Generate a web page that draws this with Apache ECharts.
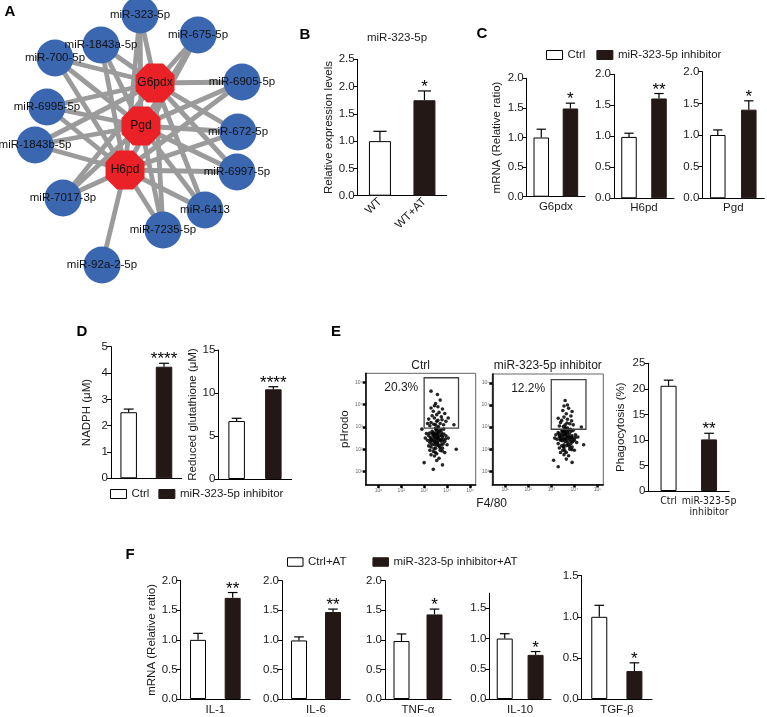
<!DOCTYPE html>
<html><head><meta charset="utf-8">
<script src="https://cdn.jsdelivr.net/npm/echarts@6/dist/echarts.min.js"></script>
<style>html,body{margin:0;padding:0;background:#fff}#c{width:767px;height:717px}</style>
</head><body><div id="c"></div>
<script>
// ---------------- DATA ----------------
// Panel A: network
const miRNAs = ['miR-323-5p','miR-675-5p','miR-1843a-5p','miR-700-5p','miR-6905-5p','miR-6995-5p','miR-672-5p','miR-1843b-5p','miR-6997-5p','miR-7017-3p','miR-6413','miR-7235-5p','miR-92a-2-5p'];
const miX = [140,198,101,55,242,47,238,35,237,63,205,163,102];
const miY = [15,35,45,58,82,107,132,145,172,198,210,230,265];
const genes = ['G6pdx','Pgd','H6pd'];
const geneX = [155,141,125];
const geneY = [83,126,170];
// targets of each miRNA (gene indices)
const miTargets = [[0,1,2],[0,1,2],[0,1,2],[0,1,2],[0,1,2],[0,1,2],[0,1,2],[0,1,2],[0,1,2],[0,1,2],[0,1,2],[0,1,2],[2]];

// Panel B
const bCats = ['WT','WT+AT'];
const bMean = [1.00, 1.75];
const bSem = [0.18, 0.17];
const bStars = ['', '*'];

// Panel C
const cGenes = ['G6pdx','H6pd','Pgd'];
const cCtrl = [1.00, 0.99, 1.00];
const cCtrlSem = [0.14, 0.06, 0.08];
const cInh = [1.49, 1.61, 1.40];
const cInhSem = [0.09, 0.08, 0.14];
const cStars = ['*','**','*'];

// Panel D
const dNames = ['NADPH (\u03bcM)','Reduced glutathione (\u03bcM)'];
const dCtrl = [2.51, 6.74];
const dCtrlSem = [0.12, 0.32];
const dInh = [4.24, 10.43];
const dInhSem = [0.13, 0.30];
const dStars = ['****','****'];
const dMax = [5, 15];
const dInterval = [1, 5];

// Panel E
const eTitles = ['Ctrl','miR-323-5p inhibitor'];
const ePct = ['20.3%','12.2%'];
const eGateX = [3.0, 4.5];
const eGateY = [[2.95, 5.2],[2.9, 5.15]];
const eDecades = [1,2,3,4,5];
const eCtrlCells = [[3.55,2.5],[3.4,2.6],[3.7,2.4],[3.5,2.3],[3.6,2.7],[3.3,2.45],[3.8,2.55],[3.45,2.2],[3.65,2.15],[3.75,2.75],[3.35,2.8],[3.55,2.85],[3.25,2.3],[3.9,2.35],[3.5,2.05],[3.7,1.95],[3.4,1.9],[3.6,2.95],[3.85,2.9],[3.2,2.6],[3.3,2.1],[3.95,2.6],[3.15,2.4],[3.55,1.8],[3.75,2.2],[3.45,2.65],[3.62,2.52],[3.38,2.38],[3.68,2.62],[3.52,2.42],[3.58,2.32],[3.42,2.48],[3.72,2.45],[3.48,2.72],[3.28,2.52],[3.82,2.42],[3.6,2.25],[3.36,2.68],[3.66,2.82],[3.5,2.95],[4.0,2.2],[3.1,2.7],[3.25,1.95],[3.8,2.05],[3.45,1.7],[3.65,1.6],[3.3,1.75],[3.9,1.85],[3.55,1.5],[3.2,2.15],[4.05,2.5],[3.05,2.5],[3.58,2.58],[3.44,2.34],[3.74,2.36],[3.54,2.66],[3.34,2.22],[3.86,2.68],
  [3.63,2.44],[3.47,2.56],[3.77,2.62],[3.57,2.18],[3.39,2.74],[3.69,2.08],[3.51,2.88],[3.83,2.24],[3.29,2.38],[3.61,2.76],[3.43,2.02],[3.73,2.86],[3.93,2.46],[3.23,2.72],[3.49,1.86],[3.79,1.92],
  [3.5,3.1],[3.7,3.15],[3.3,3.2],[3.6,3.3],[3.85,3.1],[3.45,3.4],[3.75,3.45],[3.25,3.05],[3.95,3.25],[3.55,3.55],[3.4,3.7],[3.65,3.65],[3.8,3.8],[3.35,3.5],[3.6,3.9],[3.5,4.05],[3.9,3.6],[3.2,3.35],[3.7,4.2],[3.45,3.95],[3.3,3.85],[4.05,3.4],[3.55,3.25],[3.62,3.02],[3.42,3.12],[3.78,3.32],[3.15,3.15],[3.58,4.45],[3.3,4.6],
  [4.4,2.0],[3.0,1.4],[3.8,1.3],[4.3,3.1],[2.9,2.9],[3.4,1.1]];
const eInhCells = [[3.65,2.6],[3.5,2.5],[3.8,2.45],[3.6,2.35],[3.7,2.75],[3.45,2.7],[3.9,2.6],[3.55,2.2],[3.75,2.2],[3.85,2.8],[3.4,2.4],[3.6,2.9],[3.35,2.55],[4.0,2.4],[3.55,2.05],[3.8,2.0],[3.5,1.95],[3.7,2.95],[3.95,2.85],[3.3,2.75],[3.45,2.15],[4.05,2.65],[3.25,2.45],[3.65,1.85],[3.85,2.25],[3.55,2.8],[3.72,2.52],[3.48,2.38],[3.78,2.68],[3.62,2.48],[3.68,2.4],[3.52,2.62],[3.82,2.55],[3.58,2.78],[3.38,2.62],[3.92,2.48],[3.7,2.3],[3.46,2.82],[3.76,2.88],[3.6,2.98],[4.1,2.3],[3.2,2.65],[3.35,2.05],[3.9,2.1],[3.55,1.75],[3.75,1.7],[3.4,1.85],[4.0,1.95],[3.65,1.55],[3.3,2.25],[4.15,2.55],[3.15,2.5],[3.64,2.7],[3.56,2.44],[3.84,2.36],[3.42,2.56],
  [3.73,2.58],[3.57,2.66],[3.87,2.52],[3.67,2.16],[3.49,2.84],[3.79,2.12],[3.61,2.92],[3.93,2.34],[3.39,2.46],[3.71,2.84],[3.53,2.12],[3.83,2.9],[4.03,2.52],[3.33,2.68],[3.59,1.92],[3.89,1.98],
  [3.6,3.1],[3.8,3.15],[3.4,3.2],[3.7,3.35],[3.95,3.1],[3.55,3.45],[3.85,3.5],[3.35,3.05],[3.65,3.6],[3.5,3.75],[3.75,3.85],[3.45,3.3],[3.7,4.0],[3.6,4.2],[3.9,3.7],[3.3,3.4],[3.55,3.95],[3.68,3.18],[3.52,3.02],[3.88,3.28],
  [4.4,2.2],[3.1,1.5],[3.9,1.4],[3.3,1.2],[4.3,3.0]];
const ePhCats = ['Ctrl','miR-323-5p\ninhibitor'];
const ePhago = [20.6, 10.1];
const ePhagoSem = [1.1, 1.2];
const ePhStars = ['', '**'];

// Panel F
const fGenes = ['IL-1','IL-6','TNF-\u03b1','IL-10','TGF-\u03b2'];
const fCtrl = [1.00, 0.99, 0.98, 1.00, 1.00];
const fCtrlSem = [0.11, 0.06, 0.12, 0.08, 0.14];
const fInh = [1.71, 1.47, 1.43, 0.73, 0.34];
const fInhSem = [0.09, 0.05, 0.09, 0.055, 0.10];
const fStars = ['**','**','*','*','*'];
const fMax = [2, 2, 2, 1.75, 1.5];

// ---------------- BUILD ----------------
const FONT = "'Liberation Sans', Arial, Helvetica, sans-serif";
const NARROW = "'Liberation Sans Narrow', 'DejaVu Sans Condensed', 'Liberation Sans', Arial, sans-serif";
const INK = '#1a1a1a';
const DARK = '#231815';
const grids = [], xAxes = [], yAxes = [], series = [], graphics = [], legends = [];

function errRender(stars, capW) {
  return function (params, api) {
    const i = api.value(0), v = api.value(1), e = api.value(2);
    const p0 = api.coord([i, v]), p1 = api.coord([i, v + e]);
    const ch = [
      {type:'line', shape:{x1:p0[0], y1:p0[1], x2:p1[0], y2:p1[1]}, style:{stroke:'#000', lineWidth:1.2}},
      {type:'line', shape:{x1:p1[0]-capW/2, y1:p1[1], x2:p1[0]+capW/2, y2:p1[1]}, style:{stroke:'#000', lineWidth:1.2}}
    ];
    const s = stars[params.dataIndex];
    if (s) ch.push({type:'text', x:p1[0], y:p1[1]+5, style:{text:s, font:'17px ' + FONT, fill:'#000', align:'center', verticalAlign:'bottom'}});
    return {type:'group', children: ch};
  };
}

function addBarPanel(o) {
  const gi = grids.length;
  grids.push({left:o.rect[0], top:o.rect[1], width:o.rect[2], height:o.rect[3]});
  xAxes.push({type:'category', gridIndex:gi, data:o.cats,
    axisLine:{lineStyle:{color:'#000', width:1}}, axisTick:{show:false},
    axisLabel:{show:!!o.showCats, rotate:o.rotate || 0, fontSize:o.catSize || 11.5, color:INK, fontFamily:o.catFont || FONT, margin:o.catMargin || 5, lineHeight:11, interval:0},
    name:o.xName || '', nameLocation:'middle', nameGap:o.xNameGap || 5,
    nameTextStyle:{fontSize:11.5, color:INK, fontFamily:FONT, verticalAlign:'top'}});
  yAxes.push({type:'value', gridIndex:gi, min:0, max:o.max, interval:o.interval,
    axisLine:{show:true, lineStyle:{color:'#000', width:1}},
    axisTick:{show:true, length:4, lineStyle:{color:'#000', width:1}},
    splitLine:{show:false},
    axisLabel:{fontSize:11.5, color:INK, fontFamily:FONT, margin:3, showMaxLabel:o.showMax !== false,
      formatter: v => (o.dec ? v.toFixed(1) : String(v))},
    name:o.yName || '', nameLocation:'middle', nameGap:o.yNameGap || 20,
    nameTextStyle:{fontSize:11.5, color:INK, fontFamily:FONT}});
  series.push({type:'bar', name:o.names[0], xAxisIndex:gi, yAxisIndex:gi, data:[o.vals[0], '-'],
    barWidth:o.bw, barGap:'-100%', itemStyle:{color:'#fff', borderColor:'#000', borderWidth:1}, silent:true});
  series.push({type:'bar', name:o.names[1], xAxisIndex:gi, yAxisIndex:gi, data:['-', o.vals[1]],
    barWidth:o.bw, barGap:'-100%', itemStyle:{color:DARK, borderColor:DARK, borderWidth:1}, silent:true});
  series.push({type:'custom', xAxisIndex:gi, yAxisIndex:gi, z:5, silent:true,
    data:[[0, o.vals[0], o.sems[0]], [1, o.vals[1], o.sems[1]]],
    renderItem: errRender(o.stars, o.bw * 0.6)});
}

// Panel A grid (network layout space)
(function(){
  const gi = grids.length;
  grids.push({left:0, top:0, width:260, height:300});
  xAxes.push({type:'value', gridIndex:gi, min:0, max:260, show:false});
  yAxes.push({type:'value', gridIndex:gi, min:0, max:300, inverse:true, show:false});
  const oct = 'path://M29.3,0 L70.7,0 L100,29.3 L100,70.7 L70.7,100 L29.3,100 L0,70.7 L0,29.3 Z';
  const nodes = [], links = [];
  miRNAs.forEach((n, i) => nodes.push({name:n, value:[miX[i], miY[i]], symbol:'circle', symbolSize:37,
    itemStyle:{color:'#3b66b0'}, label:{fontSize:11.5}}));
  genes.forEach((g, j) => nodes.push({name:g, value:[geneX[j], geneY[j]], symbol:oct, symbolSize:39,
    itemStyle:{color:'#ea2227'}, label:{fontSize:12}}));
  miTargets.forEach((ts, i) => ts.forEach(j => links.push({source:i, target:miRNAs.length + j})));
  series.push({type:'graph', coordinateSystem:'cartesian2d', xAxisIndex:gi, yAxisIndex:gi, silent:true,
    data:nodes, links:links, edgeSymbol:['none','none'],
    lineStyle:{color:'#9b9b9b', width:4.8, opacity:1, curveness:0},
    label:{show:true, position:'inside', color:'#111', fontFamily:FONT}});
})();

const legendCommon = {padding:0, icon:'rect', selectedMode:false, itemStyle:{borderWidth:1},
  textStyle:{fontSize:11.5, color:INK, fontFamily:FONT}};

// Panel B
addBarPanel({rect:[357.7, 59.3, 89, 136.4], cats:bCats, showCats:true, rotate:45, catMargin:4,
  names:['WT','WT+AT'], vals:bMean, sems:bSem, stars:bStars, max:2.5, interval:0.5, dec:true,
  yName:'Relative expression levels', yNameGap:22, bw:22});

// Panel C
const cRects = [[526.7, 78.3, 58.3, 118.4],[614, 74.3, 60, 124],[702.3, 71.7, 62, 126.6]];
cGenes.forEach((g, k) => addBarPanel({rect:cRects[k], cats:['Ctrl','Inh'], showCats:false,
  names:['Ctrl','miR-323-5p inhibitor'], vals:[cCtrl[k], cInh[k]], sems:[cCtrlSem[k], cInhSem[k]],
  stars:['', cStars[k]], max:2, interval:0.5, dec:true, yName: k === 0 ? 'mRNA (Relative ratio)' : '',
  yNameGap:24, xName:g, xNameGap:4, bw:15.5}));
legends.push(Object.assign({}, legendCommon, {left:546, top:49, itemWidth:16, itemHeight:9, itemGap:11,
  data:['Ctrl','miR-323-5p inhibitor']}));

// Panel D
const dRects = [[111, 346.7, 70.7, 131.6],[218.3, 350, 73.4, 129]];
const dGaps = [18, 13];
dNames.forEach((n, k) => addBarPanel({rect:dRects[k], cats:['Ctrl','Inh'], showCats:false,
  names:['Ctrl','miR-323-5p inhibitor'], vals:[dCtrl[k], dInh[k]], sems:[dCtrlSem[k], dInhSem[k]],
  stars:['', dStars[k]], max:dMax[k], interval:dInterval[k], dec:false, yName:n, yNameGap:dGaps[k], bw:16.5}));
legends.push(Object.assign({}, legendCommon, {left:110, top:488, itemWidth:16, itemHeight:9, itemGap:9,
  data:['Ctrl','miR-323-5p inhibitor']}));

// Panel E flow plots
const flowRects = [[365.7, 373.3, 110, 111.7],[492.3, 374, 111, 110.5]];
const flowCells = [eCtrlCells, eInhCells];
const sup = {1:'\u00b9',2:'\u00b2',3:'\u00b3',4:'\u2074',5:'\u2075'};
flowRects.forEach((r, k) => {
  const gi = grids.length;
  grids.push({left:r[0], top:r[1], width:r[2], height:r[3], show:true, borderColor:'#666', borderWidth:1, backgroundColor:'transparent'});
  const axCommon = {type:'value', gridIndex:gi, splitLine:{show:false},
    axisLine:{show:true, lineStyle:{color:'#000', width:1.5}},
    axisTick:{show:true, length:3, lineStyle:{color:'#000', width:2.5}, customValues:eDecades},
    axisLabel:{fontSize:5, color:'#666', margin:3, customValues:eDecades, formatter: v => '10' + (sup[v] || '')}};
  xAxes.push(Object.assign({}, axCommon, {min:0.45, max:5.25}));
  yAxes.push(Object.assign({}, axCommon, {min:0.4, max:5.4,
    name: k === 0 ? 'pHrodo' : '', nameLocation:'middle', nameGap:7,
    nameTextStyle:{fontSize:11.5, color:INK, fontFamily:FONT}}));
  series.push({type:'scatter', xAxisIndex:gi, yAxisIndex:gi, data:flowCells[k], symbolSize:3.6, silent:true,
    itemStyle:{color:'#000', opacity:0.85}});
  const gy = eGateY[k];
  series.push({type:'custom', xAxisIndex:gi, yAxisIndex:gi, z:6, silent:true,
    data:[[eGateX[0], gy[0], eGateX[1], gy[1]]],
    renderItem: (params, api) => {
      const a = api.coord([api.value(0), api.value(1)]);
      const b = api.coord([api.value(2), api.value(3)]);
      const t = api.coord([2.0, 4.75]);
      return {type:'group', children:[
        {type:'rect', shape:{x:a[0], y:b[1], width:b[0]-a[0], height:a[1]-b[1]}, style:{fill:'none', stroke:'#444', lineWidth:1.3}},
        {type:'text', x:t[0], y:t[1], style:{text:ePct[k], font:'12px ' + FONT, fill:INK, align:'center', verticalAlign:'middle'}}
      ]};
    }});
  graphics.push({type:'text', x:r[0] + r[2]/2, y:r[1] - 8, style:{text:eTitles[k], font:'12px ' + FONT, fill:INK, align:'center', verticalAlign:'middle'}});
});
graphics.push({type:'text', x:491.7, y:503.3, style:{text:'F4/80', font:'12px ' + FONT, fill:INK, align:'center', verticalAlign:'middle'}});

// Panel E bar chart
addBarPanel({rect:[648.3, 363.3, 81, 127.7], cats:ePhCats, showCats:true, catMargin:5, catSize:10.5, catFont:NARROW,
  names:['Ctrl','miR-323-5p inhibitor'], vals:ePhago, sems:ePhagoSem, stars:ePhStars, max:25, interval:5, dec:false,
  yName:'Phagocytosis (%)', yNameGap:21, bw:16});

// Panel F
const fRects = [[180.7, 580.7, 69.3, 119.3],[282, 580.7, 68, 119.3],[385, 580.7, 66, 119.3],[489.3, 593.2, 61.7, 106.1],[581.7, 575.7, 70.3, 125]];
fGenes.forEach((g, k) => addBarPanel({rect:fRects[k], cats:['Ctrl','Inh'], showCats:false,
  names:['Ctrl+AT','miR-323-5p inhibitor+AT'], vals:[fCtrl[k], fInh[k]], sems:[fCtrlSem[k], fInhSem[k]],
  stars:['', fStars[k]], max:fMax[k], interval:0.5, dec:true, showMax: fMax[k] !== 1.75,
  yName: k === 0 ? 'mRNA (Relative ratio)' : '', yNameGap:21, xName:g, xNameGap:5, bw:16}));
legends.push(Object.assign({}, legendCommon, {left:287, top:556, itemWidth:15.5, itemHeight:8.5, itemGap:26,
  data:['Ctrl+AT','miR-323-5p inhibitor+AT']}));

// Letters & titles
[['A',10,12],['B',305,35],['C',482,34],['D',82,332],['E',336,332],['F',130,555]].forEach(l =>
  graphics.push({type:'text', x:l[1], y:l[2], style:{text:l[0], font:'bold 15px ' + FONT, fill:'#000', align:'center', verticalAlign:'middle'}}));
graphics.push({type:'text', x:397, y:38, style:{text:'miR-323-5p', font:'11.5px ' + FONT, fill:INK, align:'center', verticalAlign:'middle'}});

const chart = echarts.init(document.getElementById('c'), null, {renderer:'canvas'});
chart.setOption({
  backgroundColor:'#fff', animation:false, textStyle:{fontFamily:FONT},
  grid:grids, xAxis:xAxes, yAxis:yAxes, series:series, legend:legends, graphic:graphics
});
</script></body></html>
